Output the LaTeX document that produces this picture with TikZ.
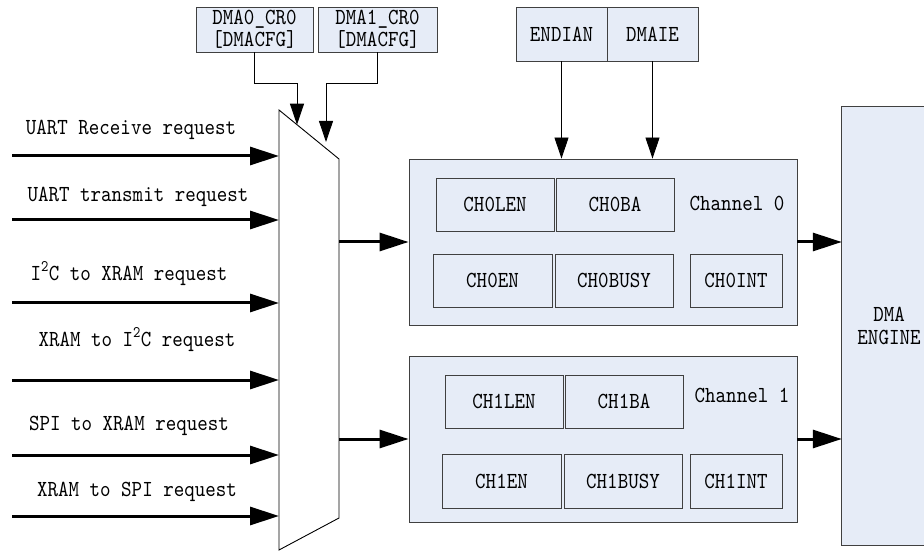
\documentclass[tikz,border=0pt]{standalone}
\usepackage{fontspec}
\setmonofont{lmmono10-regular.otf}[FakeStretch=0.87]
\usetikzlibrary{arrows.meta,calc}
\definecolor{boxfill}{RGB}{230,236,247}
\definecolor{boxline}{RGB}{64,64,64}
\begin{document}
\begin{tikzpicture}[x=1pt,y=-1pt,
  every node/.style={font=\ttfamily\fontsize{23}{22}\selectfont, inner sep=0pt},
  regbox/.style={draw=boxline, line width=0.9pt, fill=boxfill, align=center},
  innerbox/.style={draw=boxline, line width=0.9pt, fill=boxfill, minimum height=53pt},
  thickarrow/.style={line width=3pt, -{Triangle[length=29pt,width=18pt]}},
  thinarrow/.style={line width=0.9pt, -{Triangle[length=21pt,width=14pt]}},
  lbl/.style={anchor=center}]
\useasboundingbox (0,0) rectangle (924,553);

% top register boxes
\node[regbox, minimum width=117pt, minimum height=45pt] (D0) at (254.5,29.5) {DMA0\_CR0\\{}[DMACFG]};
\node[regbox, minimum width=119pt, minimum height=45pt] (D1) at (377.5,29.5) {DMA1\_CR0\\{}[DMACFG]};
\node[regbox, minimum width=91pt, minimum height=54pt] (EN) at (561.5,34) {ENDIAN};
\node[regbox, minimum width=91pt, minimum height=54pt] (IE) at (652.5,34) {DMAIE};

% multiplexer
\coordinate (M1) at (279,110);
\coordinate (M2) at (339,159);
\coordinate (M3) at (339,518);
\coordinate (M4) at (279,550);
\draw[line width=0.9pt, fill=white] (M1) -- (M2) -- (M3) -- (M4) -- cycle;

% channels
\node[regbox, minimum width=388pt, minimum height=166pt] (C0) at (603,242) {};
\node[regbox, minimum width=388pt, minimum height=166pt] (C1) at (603,439) {};

\node[innerbox, minimum width=118pt] (C0LEN) at (495,204.5) {CH0LEN};
\node[innerbox, minimum width=118pt] (C0BA) at (615,204.5) {CH0BA};
\node (C0T) at (737,203) {Channel 0};
\node[innerbox, minimum width=119pt] (C0EN) at (492.5,280.5) {CH0EN};
\node[innerbox, minimum width=118pt] (C0BUSY) at (614,280.5) {CH0BUSY};
\node[innerbox, minimum width=92pt] (C0INT) at (736,280.5) {CH0INT};

\node[innerbox, minimum width=118pt] (C1LEN) at (504,401.5) {CH1LEN};
\node[innerbox, minimum width=118pt] (C1BA) at (624,401.5) {CH1BA};
\node (C1T) at (742,395) {Channel 1};
\node[innerbox, minimum width=119pt, minimum height=54pt] (C1EN) at (501.5,481) {CH1EN};
\node[innerbox, minimum width=118pt, minimum height=54pt] (C1BUSY) at (623,481) {CH1BUSY};
\node[innerbox, minimum width=92pt, minimum height=54pt] (C1INT) at (736,481) {CH1INT};

% DMA engine
\node[fill=boxfill, minimum width=82pt, minimum height=438pt] (E) at (883,326) {};
\draw[boxline, line width=0.9pt] (E.north east) -- (E.north west) -- (E.south west) -- (E.south east);
\node[align=center, font=\ttfamily\fontsize{23}{23}\selectfont] (ET) at (889,326) {DMA\\ENGINE};

% input labels
\node[lbl] (L1) at (131,130) {UART Receive request};
\node[lbl] (L2) at (138,197) {UART transmit request};
\node[lbl] (L3) at (129,274) {I\textsuperscript{2}C to XRAM request};
\node[lbl] (L4) at (137,340) {XRAM to I\textsuperscript{2}C request};
\node[lbl] (L5) at (129,426) {SPI to XRAM request};
\node[lbl] (L6) at (137,492) {XRAM to SPI request};

% input arrows
\foreach \y/\n in {156/1,220/2,303/3,380/4,455/5,516/6}{
  \coordinate (S\n) at (12,\y);
  \coordinate (T\n) at (279,\y);
  \draw[thickarrow] (S\n) -- (T\n);
}

% mux outputs
\coordinate (O0) at (339,242);
\coordinate (O1) at (339,439);
\draw[thickarrow] (O0) -- (C0.west);
\draw[thickarrow] (O1) -- (C1.west);

% channel outputs
\draw[thickarrow] (C0.east) -- (E.west |- C0.east);
\draw[thickarrow] (C1.east) -- (E.west |- C1.east);

% control arrows
\coordinate (P0) at ($(M1)!0.3!(M2)$);
\coordinate (P1) at (326,142);
\draw[thinarrow] (D0.south) -- ++(0,31) -| (P0);
\draw[thinarrow] (D1.south) -- ++(0,31) -| (P1);
\draw[thinarrow] (EN.south) -- (EN.south |- C0.north);
\draw[thinarrow] (IE.south) -- (IE.south |- C0.north);
\end{tikzpicture}
\end{document}
